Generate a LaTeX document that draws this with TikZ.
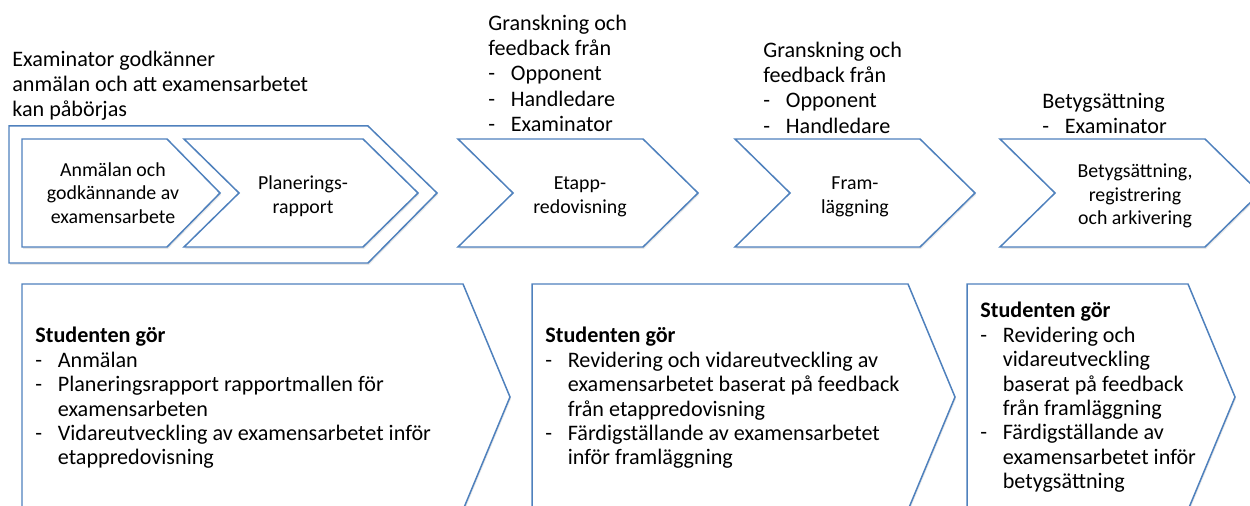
\documentclass[tikz,border=0pt]{standalone}
\usepackage{fontspec}
\setmainfont{Carlito}
\usetikzlibrary{shadows}
\definecolor{stageblue}{RGB}{79,129,189}
\newcommand{\dashitem}[1]{\makebox[0.45cm][l]{-}#1}
\newcommand{\hangline}{\hspace*{0.45cm}}
\tikzset{
	stage/.style={draw=stageblue,line width=0.85pt,fill=white,line join=miter,
		drop shadow={shadow xshift=0.6pt,shadow yshift=-1pt,opacity=0.18}},
	note/.style={anchor=north west,inner sep=0pt,align=left,font=\fontsize{12.6}{14.3}\selectfont},
	todo/.style={note,font=\fontsize{12.6}{13.9}\selectfont},
	stagetext/.style={align=center,inner sep=0pt,font=\fontsize{11.3}{13.4}\selectfont}
}
\begin{document}
\begin{tikzpicture}[x=0.02cm,y=-0.02cm]
	\useasboundingbox (0,0) rectangle (1250,506);
	\clip (0,0) rectangle (1250,506);
	\draw[stage] (9,126) -- (368,126) -- (437,193) -- (368,263) -- (9,263) -- cycle;
	\draw[stage] (22,139) -- (167,139) -- (220,193) -- (167,247) -- (22,247) -- cycle;
	\foreach \x/\w in {184/179,458/185,735/185,1000/205}
		\draw[stage] (\x,139) -- (\x+\w,139) -- (\x+\w+55,193) -- (\x+\w,247) -- (\x,247) -- (\x+55,193) -- cycle;
	\foreach \x/\r in {22/463,532/908,967/1188}
		\draw[stage] (\x,284) -- (\r,284) -- (\r+47,397) -- (\r,510) -- (\x,510) -- cycle;
	\node[stagetext] (apply) at (113,193) {Anmälan och\\godkännande av\\examensarbete};
	\node[stagetext] (plan) at (303,196) {Planerings-\\rapport};
	\node[stagetext] (midterm) at (580,197) {Etapp-\\redovisning};
	\node[stagetext] (defence) at (855,197) {Fram-\\läggning};
	\node[stagetext] (grading) at (1135,196) {Betygsättning,\\registrering\\och arkivering};
	\node[note] (approval) at (12,51) {Examinator godkänner\\anmälan och att examensarbetet\\kan påbörjas};
	\node[note] (review1) at (488,15) {Granskning och\\feedback från\\\dashitem{Opponent}\\\dashitem{Handledare}\\\dashitem{Examinator}};
	\node[note] (review2) at (763,42) {Granskning och\\feedback från\\\dashitem{Opponent}\\\dashitem{Handledare}};
	\node[note] (gradenote) at (1042,93) {Betygsättning\\\dashitem{Examinator}};
	\node[todo] (tasks1) at (35,327) {\textbf{Studenten gör}\\\dashitem{Anmälan}\\\dashitem{Planeringsrapport rapportmallen för}\\\hangline examensarbeten\\\dashitem{Vidareutveckling av examensarbetet inför}\\\hangline etappredovisning};
	\node[todo] (tasks2) at (545,327) {\textbf{Studenten gör}\\\dashitem{Revidering och vidareutveckling av}\\\hangline examensarbetet baserat på feedback\\\hangline från etappredovisning\\\dashitem{Färdigställande av examensarbetet}\\\hangline inför framläggning};
	\node[todo] (tasks3) at (980,302) {\textbf{Studenten gör}\\\dashitem{Revidering och}\\\hangline vidareutveckling\\\hangline baserat på feedback\\\hangline från framläggning\\\dashitem{Färdigställande av}\\\hangline examensarbetet inför\\\hangline betygsättning};
\end{tikzpicture}
\end{document}
